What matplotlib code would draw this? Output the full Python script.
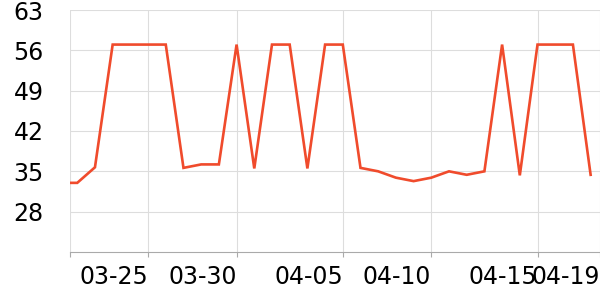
import numpy as np
import matplotlib
matplotlib.use('Agg')
import matplotlib.pyplot as plt

# daily readings (index 0 starts just left of the visible axis)
values = [33, 33, 35.7, 57, 57, 57, 57, 35.6, 36.2, 36.2, 57, 35.5, 57, 57, 35.5,
          57, 57, 35.6, 35.0, 33.9, 33.3, 33.9, 35.0, 34.4, 35.0, 57, 34.3, 57, 57, 57, 34.4]
tick_labels = ['', '03-25', '03-30', '04-05', '04-10', '04-15', '04-19']
y_ticks = [28, 35, 42, 49, 56, 63]

x = np.arange(len(values))
x_min, x_max = 0.59, 30.53
tick_pos = [x_min, 5, 10, 16, 21, 27, x_max]

line_color = '#f04b2c'
grid_color = '#dddddd'
axis_color = '#aaaaaa'

fig = plt.figure(figsize=(6, 3), dpi=100)
ax = fig.add_axes([70 / 600, 48 / 300, 530 / 600, 242 / 300])

ax.plot(x, values, color=line_color, linewidth=1.9, solid_joinstyle='miter', zorder=3)

ax.set_xlim(x_min, x_max)
ax.set_ylim(21, 63)
ax.set_yticks(y_ticks)
ax.set_xticks(tick_pos)
ax.set_xticklabels(tick_labels, ha='right')

ax.grid(True, color=grid_color, linewidth=0.8)
for s in ['top', 'right', 'left']:
    ax.spines[s].set_visible(False)
ax.spines['bottom'].set_color(axis_color)
ax.spines['bottom'].set_linewidth(0.8)

ax.tick_params(axis='y', length=0, pad=19, labelsize=17)
ax.tick_params(axis='x', length=3.6, width=0.8, color=axis_color, pad=6, labelsize=17)

fig.savefig('out.png', dpi=100)
plt.close(fig)
